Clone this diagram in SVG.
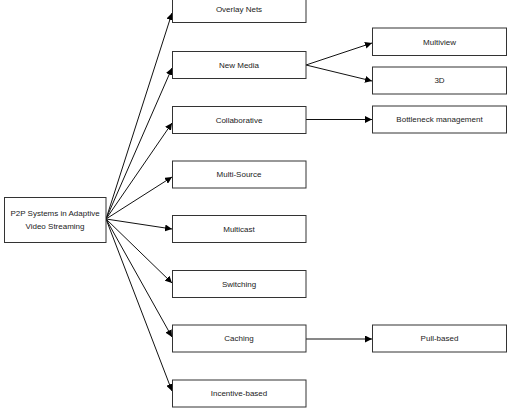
<svg xmlns="http://www.w3.org/2000/svg" width="507" height="418" viewBox="0 0 507 418">
<defs>
<marker id="ah" viewBox="0 0 10 10" refX="10" refY="5" markerWidth="7" markerHeight="7" markerUnits="userSpaceOnUse" orient="auto">
<path d="M0,0 L10,5 L0,10 z" fill="#000"/>
</marker>
<style>
.box{fill:#fff;stroke:#333;stroke-width:1}
.t{font-family:"Liberation Sans",Arial,sans-serif;font-size:8px;fill:#222;text-anchor:middle;dominant-baseline:central}
.c{stroke:#111;stroke-width:1;fill:none;marker-end:url(#ah)}
</style>
</defs>
<rect width="507" height="418" fill="#fff"/>
<g id="connectors">
<line class="c" x1="106" y1="219" x2="172" y2="13"/>
<line class="c" x1="106" y1="219" x2="172" y2="68"/>
<line class="c" x1="106" y1="219" x2="172" y2="123"/>
<line class="c" x1="106" y1="219" x2="172" y2="177"/>
<line class="c" x1="106" y1="219" x2="172" y2="229"/>
<line class="c" x1="106" y1="219" x2="172" y2="283"/>
<line class="c" x1="106" y1="219" x2="172" y2="337"/>
<line class="c" x1="106" y1="219" x2="172" y2="391"/>
<line class="c" x1="306" y1="65" x2="372" y2="43"/>
<line class="c" x1="306" y1="65" x2="372" y2="81"/>
<line class="c" x1="306" y1="119.5" x2="372" y2="119.5"/>
<line class="c" x1="306" y1="339" x2="372" y2="339"/>
</g>
<g id="root"><rect class="box" x="4.5" y="197.5" width="101.5" height="45"/><text class="t" x="55" y="213.5">P2P Systems in Adaptive</text><text class="t" x="55" y="226">Video Streaming</text></g>
<g id="overlay"><rect class="box" x="172.5" y="-4.5" width="133.5" height="27"/><text class="t" x="239" y="9">Overlay Nets</text></g>
<g id="newmedia"><rect class="box" x="172.5" y="51.5" width="133.5" height="27"/><text class="t" x="239" y="65">New Media</text></g>
<g id="collab"><rect class="box" x="172.5" y="106.5" width="133.5" height="27"/><text class="t" x="239" y="120">Collaborative</text></g>
<g id="multisource"><rect class="box" x="172.5" y="161" width="133.5" height="27"/><text class="t" x="239" y="174.5">Multi-Source</text></g>
<g id="multicast"><rect class="box" x="172.5" y="215.5" width="133.5" height="27"/><text class="t" x="239" y="229">Multicast</text></g>
<g id="switching"><rect class="box" x="172.5" y="270.5" width="133.5" height="27"/><text class="t" x="239" y="284">Switching</text></g>
<g id="caching"><rect class="box" x="172.5" y="325" width="133.5" height="27"/><text class="t" x="239" y="338.5">Caching</text></g>
<g id="incentive"><rect class="box" x="172.5" y="380" width="133.5" height="27"/><text class="t" x="239" y="393.5">Incentive-based</text></g>
<g id="multiview"><rect class="box" x="372.5" y="28" width="134" height="27.5"/><text class="t" x="439.5" y="42">Multiview</text></g>
<g id="threed"><rect class="box" x="372.5" y="67" width="134" height="27"/><text class="t" x="439.5" y="80.5">3D</text></g>
<g id="bottleneck"><rect class="box" x="372.5" y="106" width="134" height="27"/><text class="t" x="439.5" y="119.5">Bottleneck management</text></g>
<g id="pull"><rect class="box" x="372.5" y="325" width="134" height="27"/><text class="t" x="439.5" y="338.5">Pull-based</text></g>
</svg>
